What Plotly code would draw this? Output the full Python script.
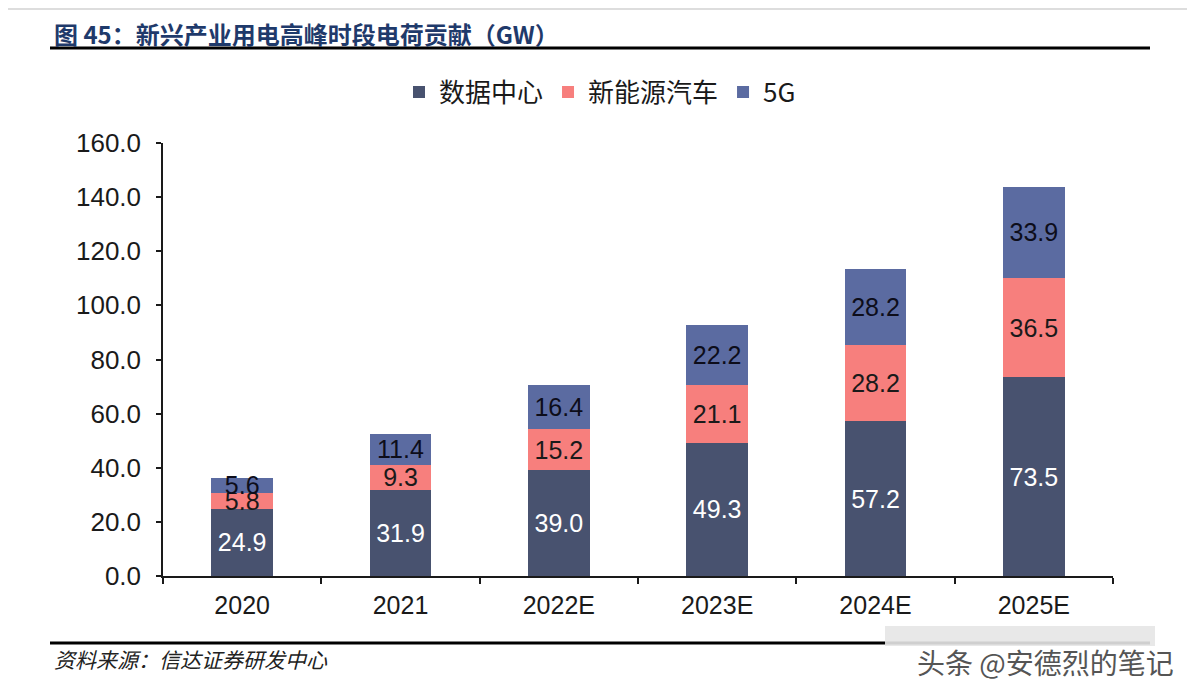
import plotly.graph_objects as go

categories = ["2020", "2021", "2022E", "2023E", "2024E", "2025E"]
data_center = [24.9, 31.9, 39.0, 49.3, 57.2, 73.5]
nev = [5.8, 9.3, 15.2, 21.1, 28.2, 36.5]
g5 = [5.6, 11.4, 16.4, 22.2, 28.2, 33.9]
y_ticks = [0, 20, 40, 60, 80, 100, 120, 140, 160]

LAT = "Liberation Sans, Arial, Noto Sans CJK SC, sans-serif"
CJK = "Noto Sans CJK SC, sans-serif"

# page body has an 8px margin; positions below are in screenshot pixels
OFF = 8
L, R, T, B = 163, 1113, 143, 576   # plot area in screenshot pixels
W, H = 1195 - OFF, 699 - OFF
PW, PH = R - L, B - T


def px(x):
    return (x - L) / PW


def py(y):
    return (B - y) / PH


fig = go.Figure()
series = [
    ("数据中心", data_center, "#48526F", "white"),
    ("新能源汽车", nev, "#F77F7D", "#1a1a1a"),
    ("5G", g5, "#5B6BA1", "#0d0d1a"),
]
for name, vals, color, tcolor in series:
    fig.add_trace(go.Bar(
        x=categories, y=vals, name=name,
        marker=dict(color=color, line=dict(width=0)),
        texttemplate="%{y:.1f}", textposition="inside",
        insidetextanchor="middle",
        textfont=dict(family=LAT, size=25, color=tcolor),
        constraintext="none",
    ))

fig.update_layout(
    barmode="stack",
    bargap=0.61,
    width=W, height=H,
    margin=dict(l=L - OFF, r=W - (R - OFF), t=T - OFF, b=H - (B - OFF)),
    plot_bgcolor="white", paper_bgcolor="white",
    uniformtext=dict(minsize=25, mode="show"),
    showlegend=True,
    legend=dict(orientation="h", x=px(600), xanchor="center", y=py(92), yanchor="middle",
                font=dict(family=CJK, size=26, color="#1a1a1a"),
                itemsizing="constant", traceorder="normal", itemwidth=30),
    font=dict(family=LAT, color="#1a1a1a"),
)
fig.update_yaxes(
    range=[0, 160], tickvals=y_ticks, ticktext=[f"{v:.1f}" for v in y_ticks],
    showgrid=False, zeroline=False,
    showline=True, linecolor="#1a1a1a", linewidth=1.5,
    ticks="outside", ticklen=5, tickcolor="#1a1a1a", tickwidth=1.5,
    ticklabelstandoff=10,
    tickfont=dict(family=LAT, size=26, color="#1a1a1a"),
)
fig.update_xaxes(
    showgrid=False, showline=True, linecolor="#1a1a1a", linewidth=1.5,
    ticks="outside", tickson="boundaries", ticklen=6, tickcolor="#1a1a1a", tickwidth=1.5,
    ticklabelstandoff=6,
    tickfont=dict(family=LAT, size=25, color="#1a1a1a"),
)

# Header title and rule
fig.add_annotation(xref="paper", yref="paper", x=px(52), y=py(33),
                   xanchor="left", yanchor="middle", showarrow=False,
                   text="<b>图 45：新兴产业用电高峰时段电荷贡献（GW）</b>",
                   font=dict(family=CJK, size=24, color="#1F3A6B"))
fig.add_shape(type="line", xref="paper", yref="paper",
              x0=px(50), x1=px(1150), y0=py(48), y1=py(48),
              line=dict(color="black", width=3))
fig.add_shape(type="line", xref="paper", yref="paper",
              x0=px(0), x1=px(1195), y0=py(9), y1=py(9),
              line=dict(color="#dddddd", width=2))
# Footer rule and source
fig.add_shape(type="line", xref="paper", yref="paper",
              x0=px(50), x1=px(1150), y0=py(643), y1=py(643),
              line=dict(color="black", width=3))
fig.add_shape(type="rect", xref="paper", yref="paper",
              x0=px(885), x1=px(1155), y0=py(626), y1=py(646),
              fillcolor="#e6e6e6", line=dict(width=0), opacity=0.9)
fig.add_annotation(xref="paper", yref="paper", x=px(52), y=py(659),
                   xanchor="left", yanchor="middle", showarrow=False,
                   text="<i>资料来源：信达证券研发中心</i>",
                   font=dict(family=CJK, size=21, color="#222222"))
fig.add_annotation(xref="paper", yref="paper", x=px(1176), y=py(662),
                   xanchor="right", yanchor="middle", showarrow=False,
                   text="头条 @安德烈的笔记",
                   font=dict(family=CJK, size=28, color="#555555"))

fig.write_html("out.html")
